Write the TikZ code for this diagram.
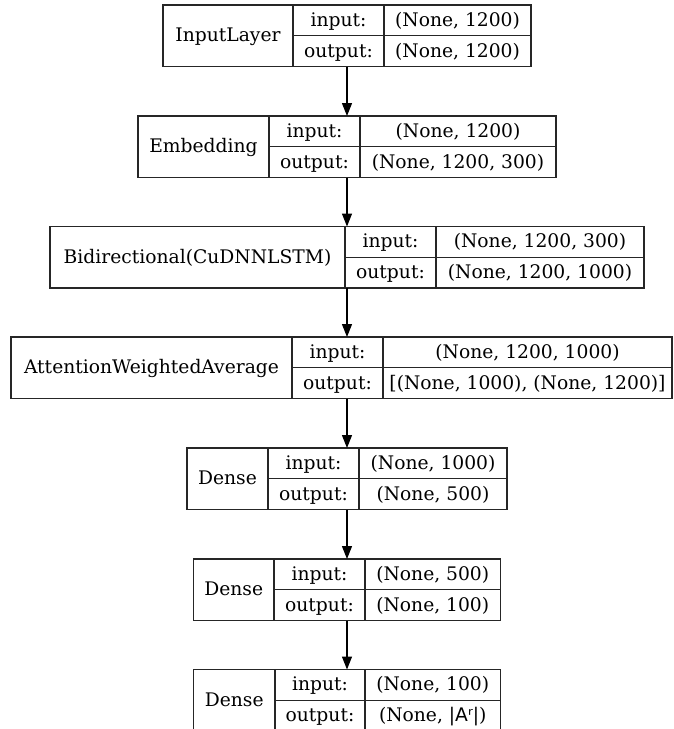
\documentclass[tikz,border=0pt]{standalone}
\usepackage{fontspec}
\setmainfont{DejaVu Serif}
\newfontfamily\dvsans{DejaVu Sans}
\usetikzlibrary{arrows.meta}
\tikzset{
  frame/.style={rectangle, draw=black!85, line width=1.1pt, inner sep=0pt, outer sep=0pt},
  rulel/.style={draw=black!85, line width=1.1pt},
  txt/.style={anchor=base, inner sep=0pt, font=\fontsize{18.7}{22}\selectfont},
  flow/.style={draw=black, line width=1.1pt, -{Triangle[length=13pt,width=10pt]}},
}
% #1 id, #2 top, #3 left, #4 d1, #5 d2, #6 right, #7 name, #8 input, #9 output
\newcommand\kLayer[9]{%
  \node[frame, minimum width={(#6-#3)*1pt}, minimum height=61.5pt] (#1) at ({(#3+#6)/2},{#2+30.75}) {};
  \draw[rulel] (#4,#2) -- (#4,{#2+61.5});
  \draw[rulel] (#5,#2) -- (#5,{#2+61.5});
  \draw[rulel] (#4,{#2+30.75}) -- (#6,{#2+30.75});
  \node[txt] (#1-name) at ({(#3+#4)/2},{#2+36.75}) {#7};
  \node[txt] (#1-il) at ({(#4+#5)/2},{#2+21.4}) {input:};
  \node[txt] (#1-ol) at ({(#4+#5)/2},{#2+52.1}) {output:};
  \node[txt] (#1-iv) at ({(#5+#6)/2},{#2+21.4}) {#8};
  \node[txt] (#1-ov) at ({(#5+#6)/2},{#2+52.1}) {#9};
}
\begin{document}
\begin{tikzpicture}[x=1pt, y=-1pt]
  \useasboundingbox (0,0) rectangle (673,729);
  \clip (0,0) rectangle (673,729);
  \fill[white] (0,0) rectangle (673,729);
  \kLayer{L1}{5}{163}{293}{384}{531}{InputLayer}{(None, 1200)}{(None, 1200)}
  \kLayer{L2}{116}{138}{269}{360}{556}{Embedding}{(None, 1200)}{(None, 1200, 300)}
  \kLayer{L3}{226.5}{50}{345}{436}{644}{Bidirectional(CuDNNLSTM)}{(None, 1200, 300)}{(None, 1200, 1000)}
  \kLayer{L4}{337}{11}{292}{383}{672}{AttentionWeightedAverage}{(None, 1200, 1000)}{[(None, 1000), (None, 1200)]}
  \kLayer{L5}{448}{187}{268}{359}{507}{Dense}{(None, 1000)}{(None, 500)}
  \kLayer{L6}{559}{193.5}{274}{365}{500.5}{Dense}{(None, 500)}{(None, 100)}
  \kLayer{L7}{669.5}{193.5}{275}{365}{500.5}{Dense}{(None, 100)}{(None, {\dvsans |Aʳ|})}
  \draw[flow] (L1.south) -- (L2.north);
  \draw[flow] (L2.south) -- (L3.north);
  \draw[flow] (L3.south) -- (L3.south |- L4.north);
  \draw[flow] (L5.north |- L4.south) -- (L5.north);
  \draw[flow] (L5.south) -- (L6.north);
  \draw[flow] (L6.south) -- (L7.north);
\end{tikzpicture}
\end{document}
